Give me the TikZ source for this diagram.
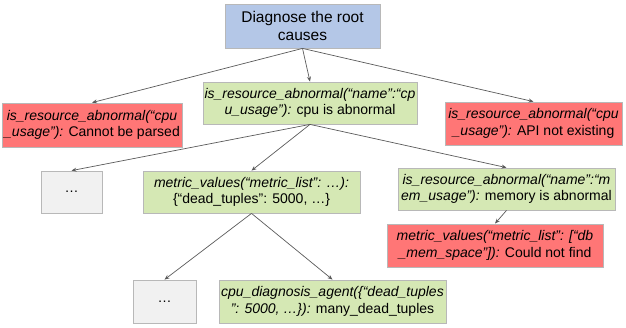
\documentclass[tikz,border=0pt]{standalone}
\usepackage{fontspec}
\setmainfont{Liberation Sans}
\usetikzlibrary{arrows.meta}
\definecolor{boxblue}{HTML}{B4C7E7}
\definecolor{boxgreen}{HTML}{D5E8B4}
\definecolor{boxred}{HTML}{FF7676}
\definecolor{boxgray}{HTML}{F1F1F1}
\definecolor{boxline}{HTML}{B8B8B8}
\definecolor{arrowgray}{HTML}{5A5A5A}
\tikzset{
  basebox/.style={draw=boxline, line width=0.8pt, rectangle, align=center, inner sep=1pt,
    font=\fontsize{14}{16.5}\selectfont},
  bluebox/.style={basebox, fill=boxblue, font=\fontsize{15.5}{18.5}\selectfont},
  greenbox/.style={basebox, fill=boxgreen},
  redbox/.style={basebox, fill=boxred},
  graybox/.style={basebox, fill=boxgray},
  conn/.style={draw=arrowgray, line width=0.7pt, -{Stealth[length=5pt,width=4pt]}},
}
\begin{document}
\begin{tikzpicture}[x=1pt,y=-1pt]
\useasboundingbox (0,0) rectangle (626,327);
\node[bluebox, minimum width=155pt, minimum height=44pt] (root) at (302.5,26) {Diagnose the root\\causes};
\node[redbox, minimum width=180pt, minimum height=44pt] (lred) at (92,125) {\textit{is\_resource\_abnormal(“cpu}\\\textit{\_usage”):} Cannot be parsed};
\node[greenbox, minimum width=214pt, minimum height=42pt] (mgreen) at (310,103) {\textit{is\_resource\_abnormal(“name”:“cp}\\\textit{u\_usage”):} cpu is abnormal};
\node[redbox, minimum width=177pt, minimum height=43pt] (rred) at (533.5,123.5) {\textit{is\_resource\_abnormal(“cpu}\\\textit{\_usage”):} API not existing};
\node[graybox, minimum width=61pt, minimum height=42pt] (dotsa) at (71.5,192) {…};
\node[greenbox, minimum width=217pt, minimum height=42pt] (metric) at (251.5,192) {\textit{metric\_values(“metric\_list”: …):}\\\{“dead\_tuples”: 5000, …\}};
\node[greenbox, minimum width=217pt, minimum height=42pt] (mem) at (506.5,189) {\textit{is\_resource\_abnormal(“name”:“m}\\\textit{em\_usage”):} memory is abnormal};
\node[redbox, minimum width=216pt, minimum height=43pt] (mred) at (495,245.5) {\textit{metric\_values(“metric\_list”: [“db}\\\textit{\_mem\_space”]):} Could not find};
\node[graybox, minimum width=63pt, minimum height=43pt] (dotsb) at (164.5,301.5) {…};
\node[greenbox, minimum width=227pt, minimum height=43pt] (cpu) at (332.5,301.5) {\textit{cpu\_diagnosis\_agent(\{“dead\_tuples}\\\textit{”: 5000, …\}):} many\_dead\_tuples};
\draw[conn] (root.south) -- (lred.north);
\draw[conn] (root.south) -- (mgreen.north);
\draw[conn] (root.south) -- (rred.north);
\draw[conn] (mgreen.south) -- (dotsa.north);
\draw[conn] (mgreen.south) -- (metric.north);
\draw[conn] (mgreen.south) -- (mem.north);
\draw[conn] (mem.south) -- (mred.north);
\draw[conn] (metric.south) -- (dotsb.north);
\draw[conn] (metric.south) -- (cpu.north);
\end{tikzpicture}
\end{document}
